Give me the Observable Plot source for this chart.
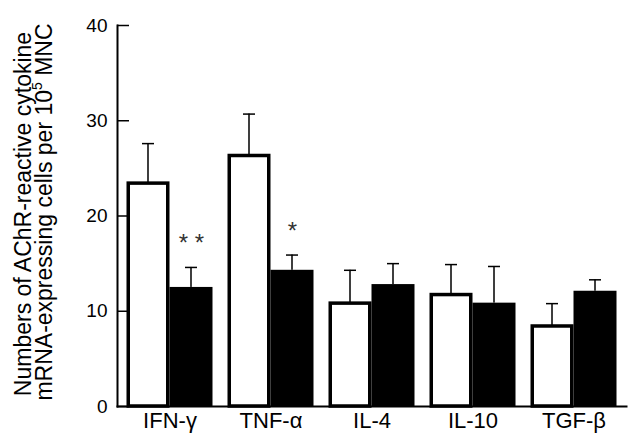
<!DOCTYPE html>
<html><head><meta charset="utf-8">
<script src="https://cdn.jsdelivr.net/npm/d3@7"></script>
<script src="https://cdn.jsdelivr.net/npm/@observablehq/plot@0.6"></script>
<style>body{margin:0;background:#fff}</style>
</head><body><div id="chart"></div>
<script>
const cytokines = ["IFN-γ", "TNF-α", "IL-4", "IL-10", "TGF-β"];
const controlMeans = [23.4, 26.3, 10.8, 11.7, 8.4];
const controlErr = [4.2, 4.4, 3.5, 3.2, 2.4];
const treatedMeans = [12.5, 14.3, 12.8, 10.85, 12.1];
const treatedErr = [2.1, 1.6, 2.2, 3.85, 1.2];
const significance = ["* *", "*", "", "", ""];
const yTicks = [0, 10, 20, 30, 40];

const control = cytokines.map((c, i) => ({cytokine: c, mean: controlMeans[i], upper: controlMeans[i] + controlErr[i]}));
const treated = cytokines.map((c, i) => ({cytokine: c, mean: treatedMeans[i], upper: treatedMeans[i] + treatedErr[i], sig: significance[i]}));

const F = "'Liberation Sans', Arial, Helvetica, sans-serif";
const plot = Plot.plot({
  width: 636, height: 440,
  marginTop: 25, marginBottom: 34, marginLeft: 117, marginRight: 10,
  style: {fontFamily: F, background: "#fff", color: "#000", overflow: "visible"},
  x: {domain: cytokines, paddingInner: 0.1485, paddingOuter: 0.094, round: false, label: null},
  y: {domain: [0, 40], label: null},
  marks: [
    Plot.barY(treated, {x: "cytokine", y: "mean", fill: "#000", insetLeft: 43, insetRight: 0}),
    Plot.barY(control, {x: "cytokine", y: "mean", fill: "#fff", stroke: "#000", strokeWidth: 3.5, insetLeft: 1.75, insetRight: 44.75}),
    Plot.barY(control, {x: "cytokine", y1: "mean", y2: "upper", fill: "#000", insetLeft: 20.75, insetRight: 63.75}),
    Plot.barY(treated, {x: "cytokine", y1: "mean", y2: "upper", fill: "#000", insetLeft: 63.75, insetRight: 20.75}),
    Plot.tickY(control, {x: "cytokine", y: "upper", strokeWidth: 1.5, insetLeft: 15.5, insetRight: 58.5}),
    Plot.tickY(treated, {x: "cytokine", y: "upper", strokeWidth: 1.5, insetLeft: 58.5, insetRight: 15.5}),
    Plot.text(treated, {x: "cytokine", y: "upper", text: "sig", dx: 21.5, dy: -16, lineAnchor: "bottom", fontSize: 24, fill: "#333"}),
    Plot.frame({anchor: "left", strokeWidth: 2}),
    Plot.frame({anchor: "bottom", strokeWidth: 2}),
    Plot.tickY(yTicks, {y: d => d, strokeWidth: 1.5, insetRight: 497}),
    Plot.axisY({ticks: yTicks, tickSize: 0, tickPadding: 10, fontSize: 19}),
    Plot.axisX({tickSize: 0, tickPadding: 6, fontSize: 22, lineAnchor: "top"})
  ]
});

const t = d3.select(plot).append("text")
  .attr("transform", "translate(31,214) rotate(-90)")
  .attr("text-anchor", "middle")
  .attr("font-family", F)
  .attr("font-size", 23)
  .attr("fill", "#000");
t.append("tspan").attr("x", 0).attr("y", 0).text("Numbers of AChR-reactive cytokine");
const t2 = d3.select(plot).append("text")
  .attr("transform", "translate(52,212) rotate(-90)")
  .attr("text-anchor", "middle")
  .attr("font-family", F)
  .attr("font-size", 23)
  .attr("fill", "#000");
t2.append("tspan").text("mRNA-expressing cells per 10");
t2.append("tspan").attr("font-size", 14).attr("dy", -10).text("5");
t2.append("tspan").attr("dy", 10).text(" MNC");

document.getElementById("chart").appendChild(plot);
</script>
</body></html>
